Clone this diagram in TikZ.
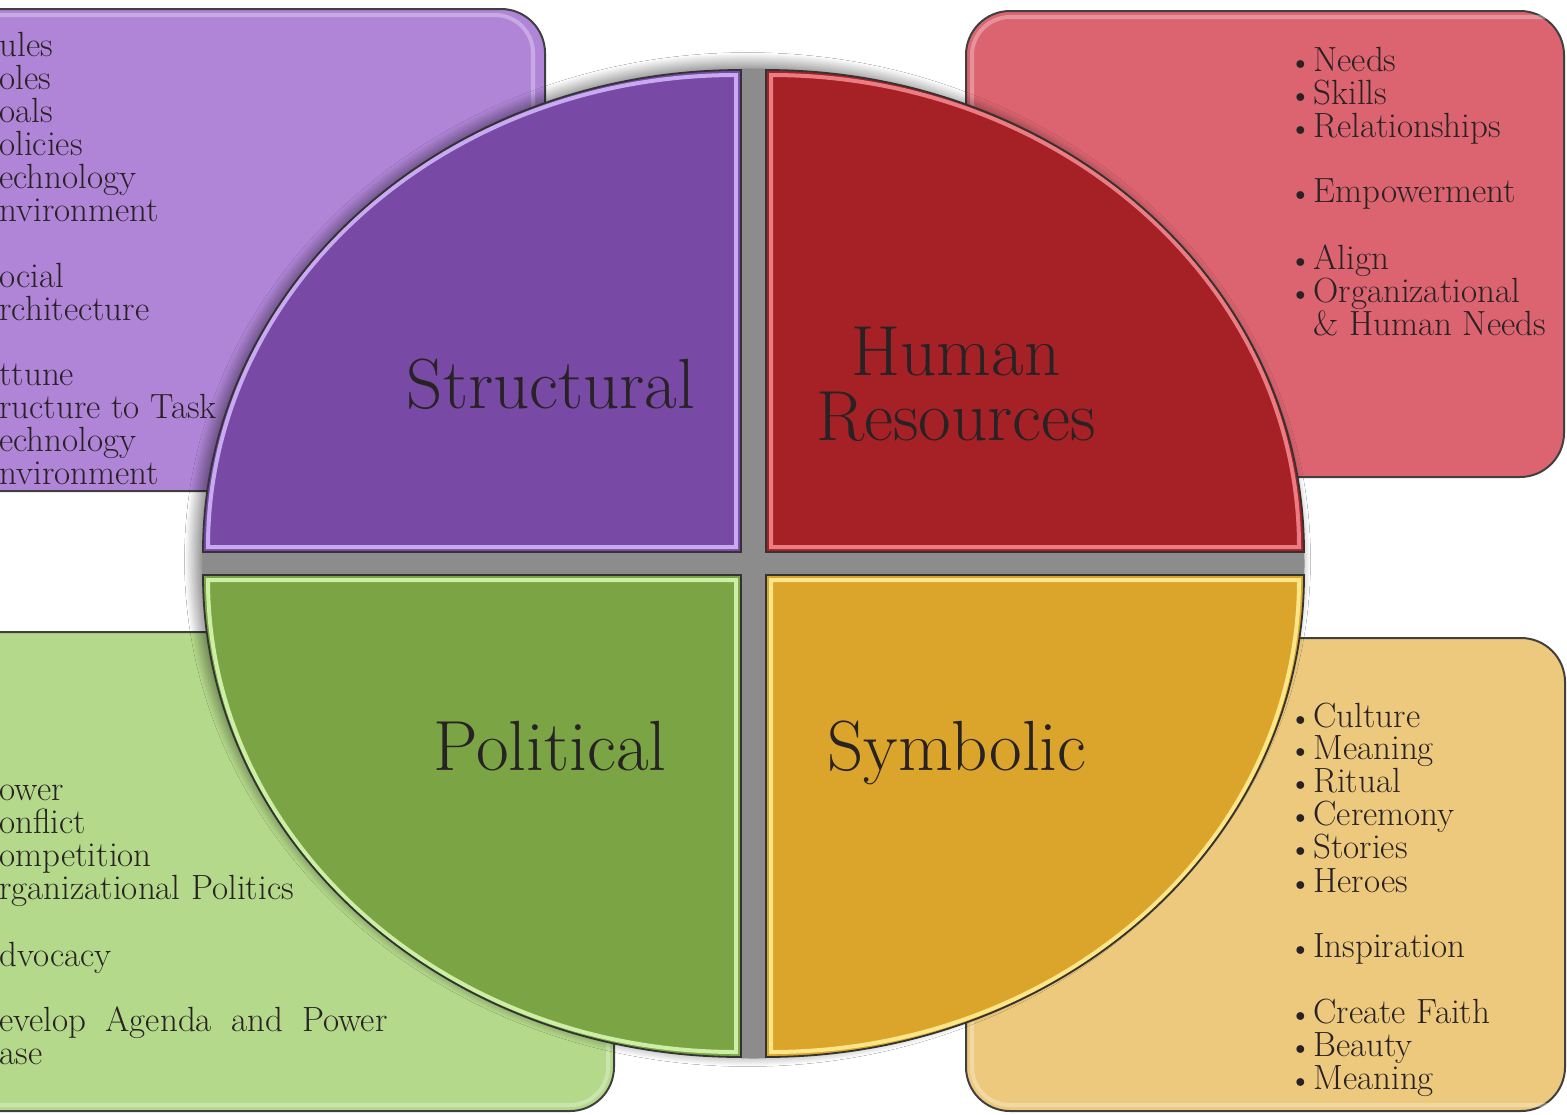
\documentclass[tikz,border=0pt]{standalone}
\usepackage{tikz}
\usetikzlibrary{shadows,shadows.blur,positioning}
\definecolor{strucbox}{RGB}{176,133,216}
\definecolor{strucfill}{RGB}{120,73,165}
\definecolor{strucglow}{RGB}{200,170,240}
\definecolor{humanbox}{RGB}{220,100,112}
\definecolor{humanfill}{RGB}{165,33,38}
\definecolor{humanglow}{RGB}{235,125,130}
\definecolor{polibox}{RGB}{180,217,138}
\definecolor{polifill}{RGB}{123,165,69}
\definecolor{poliglow}{RGB}{205,238,165}
\definecolor{symbbox}{RGB}{237,201,126}
\definecolor{symbfill}{RGB}{219,164,42}
\definecolor{symbglow}{RGB}{252,230,135}
\definecolor{gapgray}{RGB}{140,140,140}
\definecolor{ink}{RGB}{40,34,36}
\newcommand{\quarter}[3]{%
  \begin{scope}[#1]
    \fill[#2] (0,0) -- (-\qrx,0) arc[start angle=180,end angle=270,x radius=\qrx,y radius=\qry] -- cycle;
    \draw[#3,line width=2] (-5,-5) -- (-\qrx+5,-5) arc[start angle=180,end angle=270,x radius=\qrx-10,y radius=\qry-10] -- cycle;
    \draw[black!80,line width=.9] (0,0) -- (-\qrx,0) arc[start angle=180,end angle=270,x radius=\qrx,y radius=\qry] -- cycle;
  \end{scope}}
\newcommand{\dotitem}{\makebox[12pt][l]{\fontsize{14.5}{14}\selectfont\textbullet}}

\begin{document}
\begin{tikzpicture}[x=0.5pt,y=-0.5pt,
    panel/.style={draw=black!75,line width=1,rounded corners=22pt},
    glint/.style={white,opacity=.3,line width=2,rounded corners=19pt},
    item/.style={anchor=base west,inner sep=0,text=ink,font=\fontsize{17.5}{16.5}\selectfont},
    title/.style={inner sep=0,text=ink,font=\fontsize{35.5}{32.5}\selectfont}]
  \useasboundingbox (0,0) rectangle (1567,1114);
  \clip (0,0) rectangle (1567,1114);
  \fill[white] (0,0) rectangle (1567,1114);
  \def\qrx{538}
  \def\qry{482}
  % side panels
  \draw[panel,fill=strucbox] (-60,9) rectangle (545,491);
  \draw[glint] (-60,15) -- (533,15) -- (533,485);
  \draw[panel,fill=humanbox] (966,11) rectangle (1564,477);
  \draw[glint] (972,471) -- (972,17) -- (1558,17);
  \draw[panel,fill=polibox] (-60,632) rectangle (614,1111);
  \draw[glint] (-60,1105) -- (608,1105) -- (608,638);
  \draw[panel,fill=symbbox] (966,638) rectangle (1565,1111);
  \draw[glint] (972,644) -- (972,1105) -- (1559,1105);
  % circle: shadow, gray cross, quarters
  \fill[white,blur shadow={shadow xshift=-3pt,shadow yshift=2pt,shadow blur radius=9pt,shadow blur steps=20,shadow opacity=85}]
    (753.5,563.5) ellipse [x radius=545,y radius=489];
  \begin{scope}
    \clip (753.5,563.5) ellipse [x radius=551,y radius=495];
    \fill[gapgray] (741,40) rectangle (766,1090);
    \fill[gapgray] (180,552) rectangle (1330,575);
  \end{scope}
  \quarter{shift={(741,552)}}{strucfill}{strucglow}
  \quarter{shift={(766,552)},xscale=-1}{humanfill}{humanglow}
  \quarter{shift={(741,575)},yscale=-1}{polifill}{poliglow}
  \quarter{shift={(766,575)},xscale=-1,yscale=-1}{symbfill}{symbglow}
  % titles
  \node[title,anchor=base] (stitle) at (551,408) {Structural};
  \node[title,align=center] (htitle) at (956,384) {Human\\Resources};
  \node[title,anchor=base] (ptitle) at (550,770) {Political};
  \node[title,anchor=base] (ytitle) at (957,770) {Symbolic};
  % lists
  \foreach \t/\yy [count=\i] in {ules/56,oles/89,oals/122,olicies/155,echnology/188,nvironment/221,ocial/287,rchitecture/320,ttune/385,ructure to Task/418,echnology/451,nvironment/484}
    \node[item] (st\i) at (-1,\yy) {\t};
  \foreach \t/\yy [count=\i] in {Needs/71,Skills/104,Relationships/137,Empowerment/202,Align/269,Organizational/302}
    \node[item] (hr\i) at (1289,\yy) {\dotitem\t};
  \node[item] (hr7) at (1289,335) {\phantom{\dotitem}\& Human Needs};
  \foreach \t/\yy [count=\i] in {ower/800,onflict/833,ompetition/866,rganizational Politics/899,dvocacy/966}
    \node[item] (pl\i) at (-1,\yy) {\t};
  \node[item] (pl6) at (-1,1031) {\makebox[194pt][s]{evelop Agenda and Power}};
  \node[item] (pl7) at (-1,1064) {ase};
  \foreach \t/\yy [count=\i] in {Culture/727,Meaning/759,Ritual/792,Ceremony/825,Stories/858,Heroes/892,Inspiration/957,Create Faith/1023,Beauty/1056,Meaning/1089}
    \node[item] (sy\i) at (1289,\yy) {\dotitem\t};
\end{tikzpicture}
\end{document}
